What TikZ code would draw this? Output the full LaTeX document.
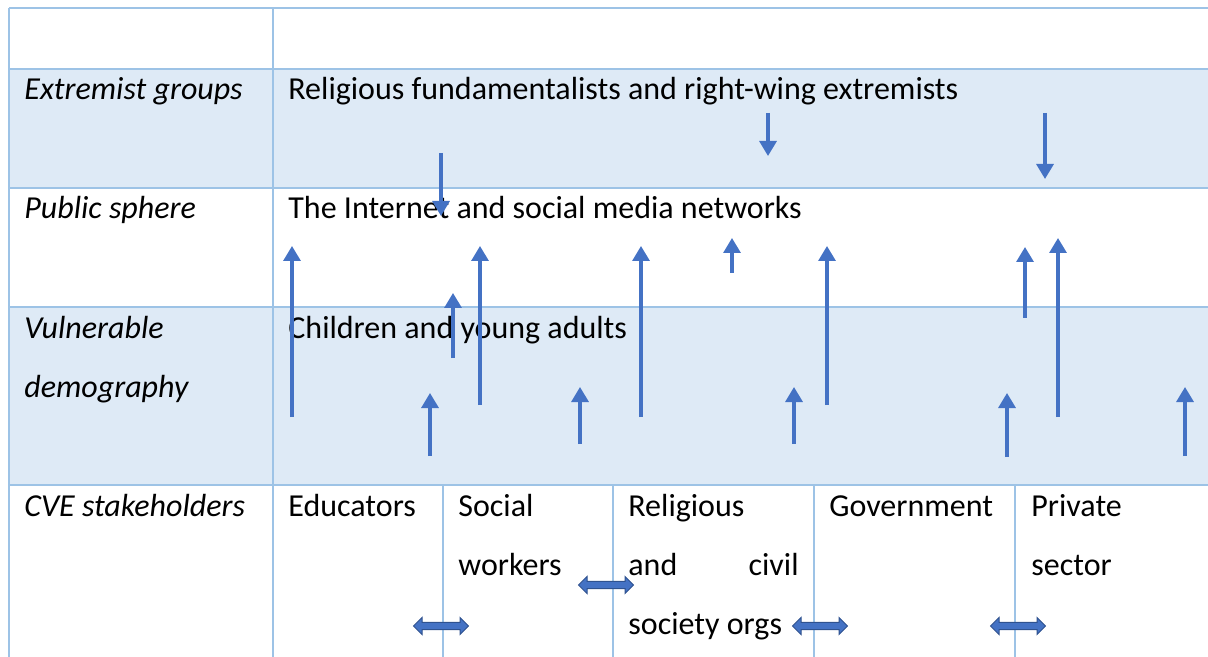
\documentclass[tikz,border=0pt]{standalone}
\usepackage{fontspec}
\setmainfont{Carlito}
\usetikzlibrary{arrows.meta, shapes.arrows}
\definecolor{gridblue}{HTML}{9DC3E6}
\definecolor{rowblue}{HTML}{DEEAF6}
\definecolor{arrblue}{HTML}{4472C4}
\definecolor{arredge}{HTML}{2F528F}

\begin{document}
\begin{tikzpicture}[x = 0.5pt, y = -0.5pt,
	txt/.style = {anchor = base west, inner sep = 0, font = \fontsize{16}{19}\selectfont},
	lbl/.style = {txt, font = \fontsize{16}{19}\selectfont\itshape},
	rule/.style = {gridblue, line width = 1pt},
	arr/.style = {arrblue, line width = 1.6pt, -{Triangle[width = 8.5pt, length = 7.5pt]}},
	dblarr/.style = {double arrow, fill = arrblue, draw = arredge, line width = 0.5pt, inner sep = 1.6pt, double arrow head extend = 2.4pt, minimum height = 27.5pt}]
	\useasboundingbox (0,0) rectangle (1208,657);

	\fill [rowblue] (9,69) rectangle (1208,188);
	\fill [rowblue] (9,307) rectangle (1208,485);

	\draw [rule] (9,8) -- (1208,8);
	\draw [rule] (9,69) -- (1208,69);
	\draw [rule] (9,188) -- (1208,188);
	\draw [rule] (9,307) -- (1208,307);
	\draw [rule] (9,485) -- (1208,485);
	\draw [rule] (9,8) -- (9,657);
	\draw [rule] (273,8) -- (273,657);
	\draw [rule] (443,485) -- (443,657);
	\draw [rule] (613,485) -- (613,657);
	\draw [rule] (814,485) -- (814,657);
	\draw [rule] (1015,485) -- (1015,657);

	\node [lbl] (extr) at (24,100) {Extremist groups};
	\node [txt] (fund) at (288,100) {Religious fundamentalists and right-wing extremists};
	\node [lbl] (pub) at (24,219) {Public sphere};
	\node [txt] (net) at (288,219) {The Internet and social media networks};
	\node [lbl] (vuln) at (24,338) {Vulnerable};
	\node [lbl] (demo) at (24,397) {demography};
	\node [txt] (youth) at (288,338) {Children and young adults};

	\node [lbl] (cve) at (24,516) {CVE stakeholders};
	\node [txt] (edu) at (288,516) {Educators};
	\node [txt] (soc) at (458,516) {Social};
	\node [txt] (socb) at (458,575) {workers};
	\node [txt] (rel) at (628,516) {Religious};
	\node [txt] (relb) at (628,575) {and};
	\node [txt, anchor = base east] (relc) at (799,575) {civil};
	\node [txt] (reld) at (628,634) {society orgs};
	\node [txt] (gov) at (829,516) {Government};
	\node [txt] (priv) at (1031,516) {Private};
	\node [txt] (privb) at (1031,575) {sector};

	\draw [arr] (441,153) -- (441,216);
	\draw [arr] (768,113) -- (768,156);
	\draw [arr] (1045,113) -- (1045,179);

	\draw [arr] (292,417) -- (292,246);
	\draw [arr] (430,456) -- (430,393);
	\draw [arr] (453,358) -- (453,293);
	\draw [arr] (480,405) -- (480,246);
	\draw [arr] (580,444) -- (580,387);
	\draw [arr] (641,417) -- (641,246);
	\draw [arr] (732,273) -- (732,238);
	\draw [arr] (794,444) -- (794,387);
	\draw [arr] (827,405) -- (827,246);
	\draw [arr] (1007,457) -- (1007,393);
	\draw [arr] (1025,318) -- (1025,247);
	\draw [arr] (1058,417) -- (1058,238);
	\draw [arr] (1185,456) -- (1185,387);

	\node [dblarr] (da1) at (441,626) {};
	\node [dblarr] (da2) at (606,585) {};
	\node [dblarr] (da3) at (820,626) {};
	\node [dblarr] (da4) at (1018,626) {};
\end{tikzpicture}
\end{document}
